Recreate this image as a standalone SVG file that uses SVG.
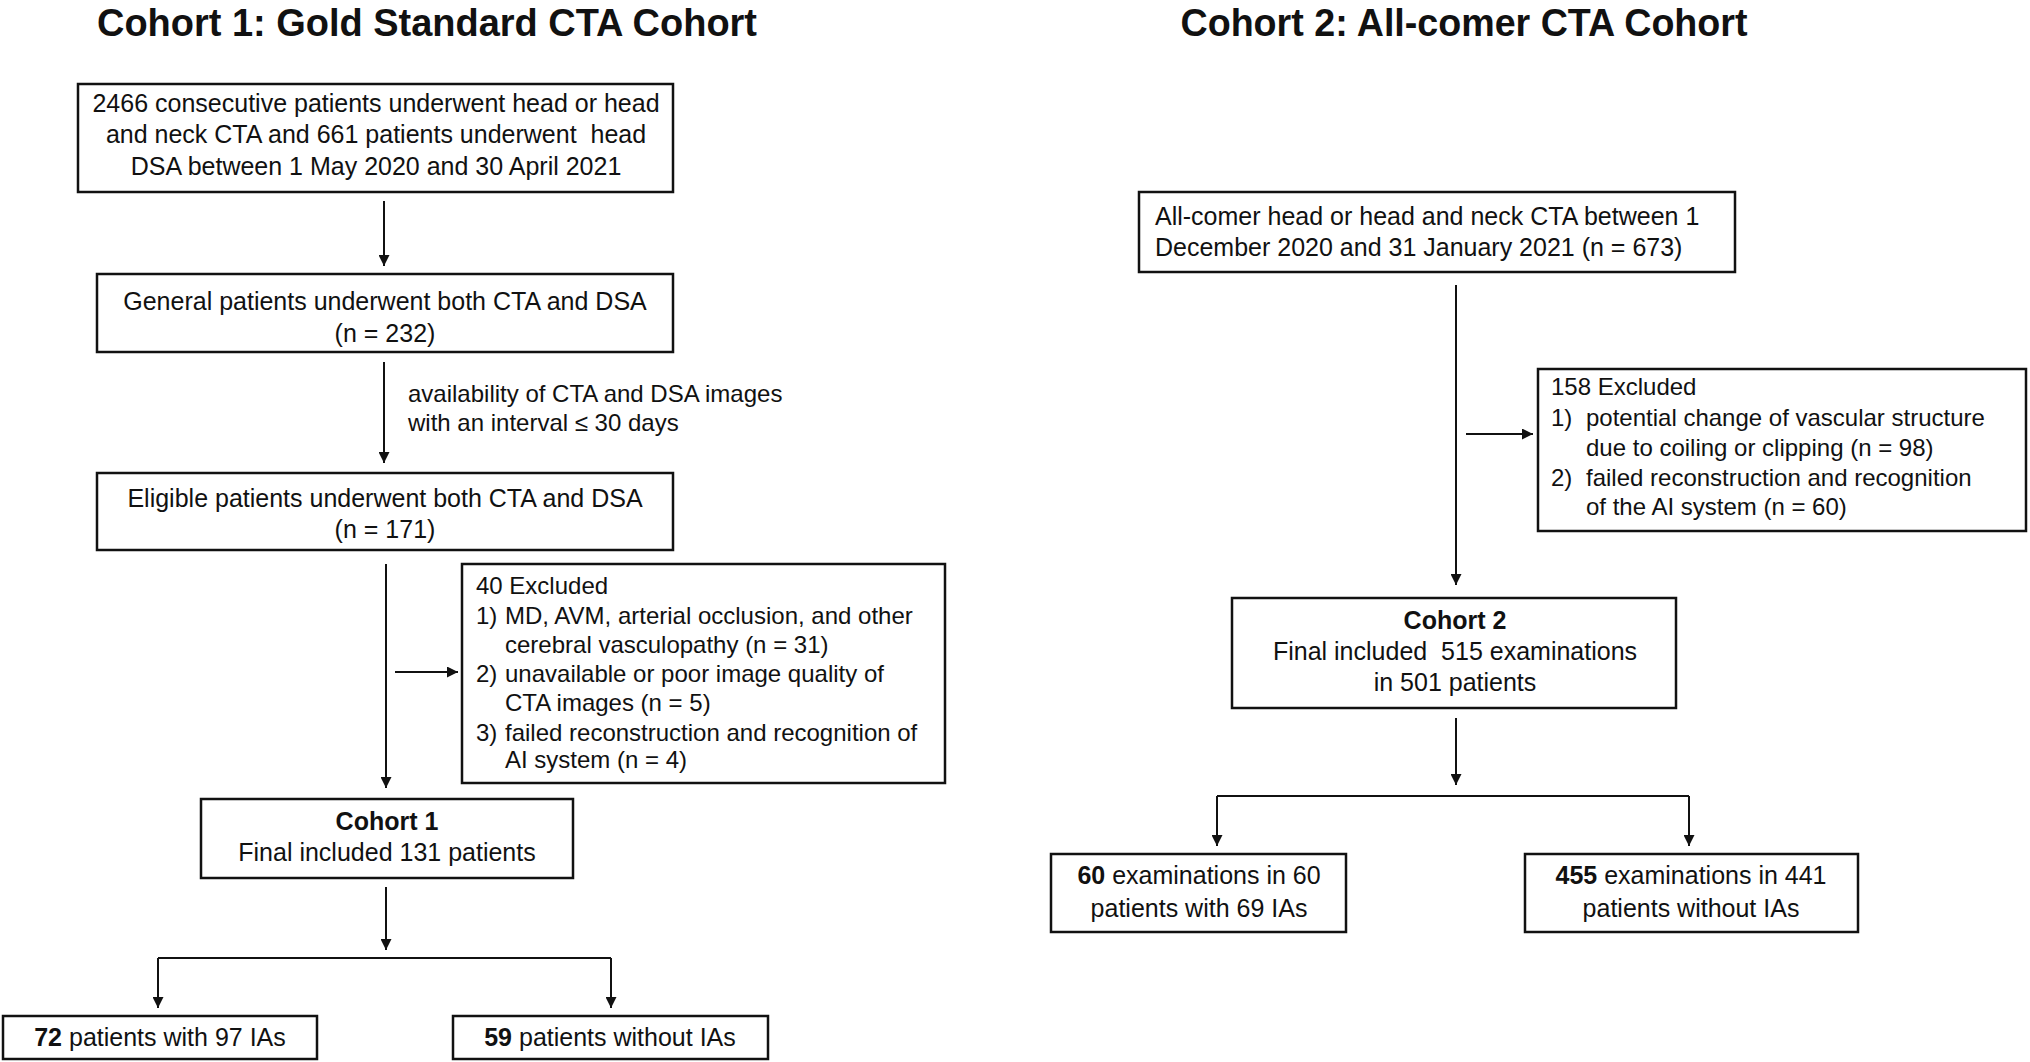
<svg xmlns="http://www.w3.org/2000/svg" width="2030" height="1062" viewBox="0 0 2030 1062">
<style>
text{font-family:"Liberation Sans",Arial,sans-serif;font-size:25px;fill:#111}
.t{font-size:38px;font-weight:bold}
.c{text-anchor:middle}
.s{font-size:24px}
.b{font-weight:bold}
rect{fill:#fff;stroke:#111;stroke-width:2.5}
.con line,.con path{stroke:#111;stroke-width:2;fill:none}
</style>
<defs><marker id="m" viewBox="0 0 10 10" refX="10" refY="5" markerWidth="11" markerHeight="11" orient="auto" markerUnits="userSpaceOnUse"><path d="M0,0L10,5L0,10z" fill="#111"/></marker></defs>
<text class="t c" x="427" y="36" textLength="660" lengthAdjust="spacingAndGlyphs">Cohort 1: Gold Standard CTA Cohort</text>
<text class="t c" x="1464" y="36" textLength="567" lengthAdjust="spacingAndGlyphs">Cohort 2: All-comer CTA Cohort</text>
<g class="con">
<line x1="384" y1="201" x2="384" y2="266" marker-end="url(#m)"/>
<line x1="384" y1="362" x2="384" y2="463" marker-end="url(#m)"/>
<line x1="386" y1="564" x2="386" y2="788" marker-end="url(#m)"/>
<line x1="395" y1="672" x2="458" y2="672" marker-end="url(#m)"/>
<line x1="386" y1="887" x2="386" y2="950" marker-end="url(#m)"/>
<path d="M158,958H611"/>
<line x1="158" y1="958" x2="158" y2="1008" marker-end="url(#m)"/>
<line x1="611" y1="958" x2="611" y2="1008" marker-end="url(#m)"/>
<line x1="1456" y1="285" x2="1456" y2="585" marker-end="url(#m)"/>
<line x1="1466" y1="434" x2="1533" y2="434" marker-end="url(#m)"/>
<line x1="1456" y1="718" x2="1456" y2="785" marker-end="url(#m)"/>
<line x1="1217" y1="796" x2="1689" y2="796"/>
<line x1="1217" y1="796" x2="1217" y2="846" marker-end="url(#m)"/>
<line x1="1689" y1="796" x2="1689" y2="846" marker-end="url(#m)"/>
</g>
<g id="n1"><rect x="78" y="84" width="595" height="108"/>
<text class="c" x="376" y="112">2466 consecutive patients underwent head or head</text>
<text class="c" x="376" y="143" xml:space="preserve">and neck CTA and 661 patients underwent  head</text>
<text class="c" x="376" y="175">DSA between 1 May 2020 and 30 April 2021</text></g>
<g id="n2"><rect x="97" y="274" width="576" height="78"/>
<text class="c" x="385" y="310">General patients underwent both CTA and DSA</text>
<text class="c" x="385" y="342">(n = 232)</text></g>
<text class="s" x="408" y="402">availability of CTA and DSA images</text>
<text class="s" x="408" y="431">with an interval ≤ 30 days</text>
<g id="n3"><rect x="97" y="473" width="576" height="77"/>
<text class="c" x="385" y="507">Eligible patients underwent both CTA and DSA</text>
<text class="c" x="385" y="538">(n = 171)</text></g>
<g id="n4"><rect x="462" y="564" width="483" height="219"/>
<text class="s" x="476" y="594">40 Excluded</text>
<text class="s" x="476" y="624">1)</text><text class="s" x="505" y="624">MD, AVM, arterial occlusion, and other</text>
<text class="s" x="505" y="653">cerebral vasculopathy (n = 31)</text>
<text class="s" x="476" y="682">2)</text><text class="s" x="505" y="682">unavailable or poor image quality of</text>
<text class="s" x="505" y="711">CTA images (n = 5)</text>
<text class="s" x="476" y="741">3)</text><text class="s" x="505" y="741">failed reconstruction and recognition of</text>
<text class="s" x="505" y="768">AI system (n = 4)</text></g>
<g id="n5"><rect x="201" y="799" width="372" height="79"/>
<text class="c b" x="387" y="830">Cohort 1</text>
<text class="c" x="387" y="861">Final included 131 patients</text></g>
<g id="n6"><rect x="3" y="1016" width="314" height="43"/>
<text class="c" x="160" y="1046"><tspan class="b">72</tspan> patients with 97 IAs</text></g>
<g id="n7"><rect x="453" y="1016" width="315" height="43"/>
<text class="c" x="610" y="1046"><tspan class="b">59</tspan> patients without IAs</text></g>
<g id="m1"><rect x="1139" y="192" width="596" height="80"/>
<text x="1155" y="225">All-comer head or head and neck CTA between 1</text>
<text x="1155" y="256">December 2020 and 31 January 2021 (n = 673)</text></g>
<g id="m2"><rect x="1538" y="369" width="488" height="162"/>
<text class="s" x="1551" y="395">158 Excluded</text>
<text class="s" x="1551" y="426">1)</text><text class="s" x="1586" y="426">potential change of vascular structure</text>
<text class="s" x="1586" y="456">due to coiling or clipping (n = 98)</text>
<text class="s" x="1551" y="486">2)</text><text class="s" x="1586" y="486">failed reconstruction and recognition</text>
<text class="s" x="1586" y="515">of the AI system (n = 60)</text></g>
<g id="m3"><rect x="1232" y="598" width="444" height="110"/>
<text class="c b" x="1455" y="629">Cohort 2</text>
<text class="c" x="1455" y="660" xml:space="preserve">Final included  515 examinations</text>
<text class="c" x="1455" y="691">in 501 patients</text></g>
<g id="m4"><rect x="1051" y="854" width="295" height="78"/>
<text class="c" x="1199" y="884"><tspan class="b">60</tspan> examinations in 60</text>
<text class="c" x="1199" y="917">patients with 69 IAs</text></g>
<g id="m5"><rect x="1525" y="854" width="333" height="78"/>
<text class="c" x="1691" y="884"><tspan class="b">455</tspan> examinations in 441</text>
<text class="c" x="1691" y="917">patients without IAs</text></g>
</svg>
